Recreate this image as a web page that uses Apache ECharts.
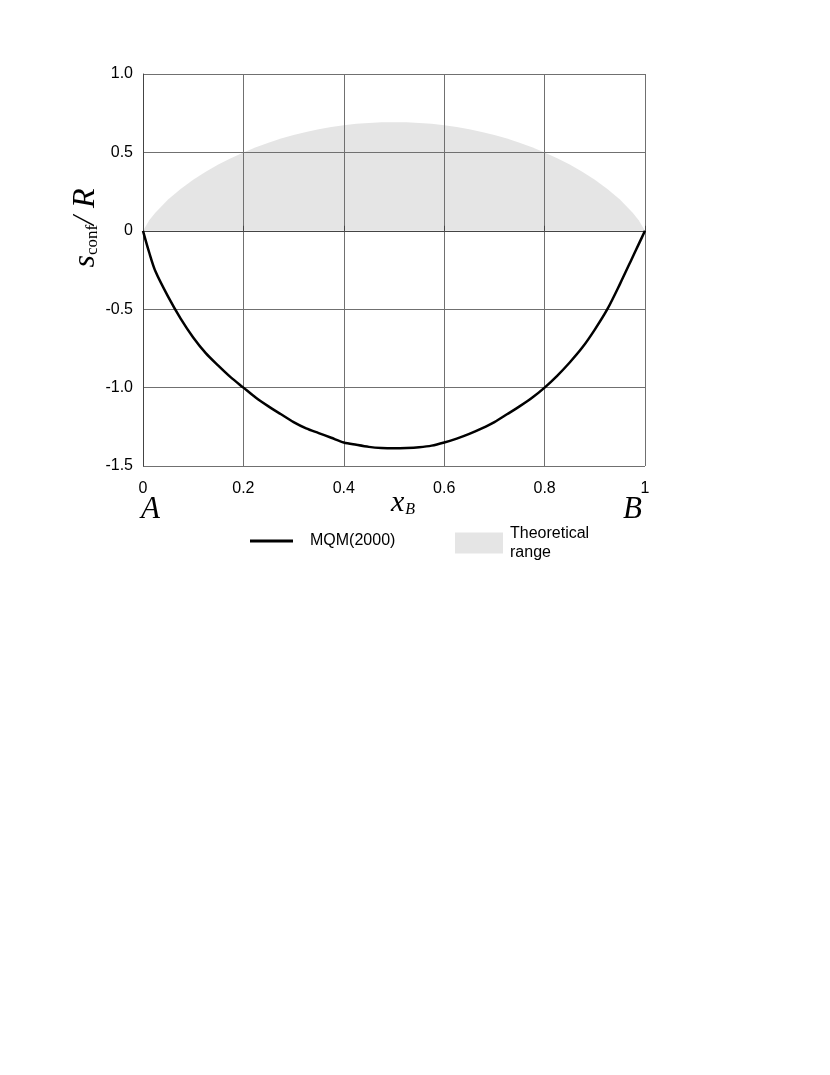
<!DOCTYPE html>
<html>
<head>
<meta charset="utf-8">
<script src="https://cdn.jsdelivr.net/npm/echarts@6/dist/echarts.min.js"></script>
<style>
    html, body { margin: 0; padding: 0; background: #fff; }
    #main { width: 830px; height: 1075px; }
</style>
</head>
<body>
<div id="main"></div>
<script>
    // x_B positions
    var xValues = [0, 0.0125, 0.025, 0.05, 0.075, 0.1, 0.125, 0.15, 0.175, 0.2, 0.225, 0.25, 0.275, 0.3, 0.325, 0.35, 0.375, 0.4, 0.425, 0.45, 0.475, 0.5,
        0.525, 0.55, 0.575, 0.6, 0.625, 0.65, 0.675, 0.7, 0.725, 0.75, 0.775, 0.8, 0.825, 0.85, 0.875, 0.9, 0.925, 0.95, 0.975, 0.9875, 1];
    // MQM(2000) curve
    var mqmValues = [0, -0.14, -0.26, -0.42, -0.56, -0.68, -0.78, -0.86, -0.935, -1.00, -1.065, -1.12, -1.17, -1.22, -1.26, -1.29, -1.32, -1.35, -1.365, -1.378, -1.385, -1.387,
        -1.385, -1.38, -1.37, -1.35, -1.325, -1.295, -1.26, -1.22, -1.17, -1.12, -1.065, -1.00, -0.925, -0.84, -0.745, -0.63, -0.50, -0.34, -0.17, -0.085, 0];
    // upper edge of theoretical range
    var rangeValues = [0, 0.068, 0.117, 0.199, 0.267, 0.325, 0.377, 0.423, 0.463, 0.500, 0.533, 0.562, 0.588, 0.611, 0.630, 0.647, 0.662, 0.673, 0.682, 0.688, 0.692, 0.693,
        0.692, 0.688, 0.682, 0.673, 0.662, 0.647, 0.630, 0.611, 0.588, 0.562, 0.533, 0.500, 0.463, 0.423, 0.377, 0.325, 0.267, 0.199, 0.117, 0.068, 0];

    function pairs(ys) {
        var out = [];
        for (var i = 0; i < xValues.length; i++) {
            out.push([xValues[i], ys[i]]);
        }
        return out;
    }

    var serif = '"Liberation Serif", "Times New Roman", serif';
    var sans = '"Liberation Sans", Arial, sans-serif';

    var myChart = echarts.init(document.getElementById('main'));

    var option = {
        backgroundColor: '#fff',
        animation: false,
        grid: {left: 143, right: 185, top: 74, bottom: 609},
        legend: [
            {
                left: 250, top: 533, padding: 0,
                data: ['MQM(2000)'],
                icon: 'rect', itemWidth: 43, itemHeight: 3, itemGap: 10,
                textStyle: {fontFamily: sans, fontSize: 16, color: '#000', padding: [0, 0, 0, 12]}
            },
            {
                left: 455, top: 524, padding: 0,
                data: ['Theoretical range'],
                icon: 'rect', itemWidth: 48, itemHeight: 21, itemGap: 8,
                formatter: function () { return 'Theoretical\nrange'; },
                textStyle: {fontFamily: sans, fontSize: 16, color: '#000', lineHeight: 19, padding: [0, 0, 0, 2]}
            }
        ],
        xAxis: {
            type: 'value', min: 0, max: 1, interval: 0.2, z: 2,
            axisLine: {lineStyle: {color: '#444', width: 1}},
            axisTick: {show: true, inside: true, length: 5, lineStyle: {color: '#444'}},
            axisLabel: {fontFamily: sans, fontSize: 16, color: '#000', margin: 15},
            splitLine: {show: true, lineStyle: {color: '#707070', width: 1}}
        },
        yAxis: {
            type: 'value', min: -1.5, max: 1.0, interval: 0.5, z: 2,
            axisLine: {show: true, lineStyle: {color: '#444', width: 1}},
            axisTick: {show: false},
            axisLabel: {
                fontFamily: sans, fontSize: 16, color: '#000', margin: 10,
                formatter: function (v) {
                    if (v === 0) return '0';
                    return v.toFixed(1);
                }
            },
            splitLine: {show: true, lineStyle: {color: '#707070', width: 1}}
        },
        graphic: [
            {type: 'text', left: 141, top: 494, style: {text: 'A', font: 'italic 31px ' + serif, fill: '#000'}},
            {type: 'text', left: 623, top: 494, style: {text: 'B', font: 'italic 31px ' + serif, fill: '#000'}},
            {
                type: 'text', x: 403, y: 503,
                style: {
                    text: '{x|x}{b|B}', align: 'center', verticalAlign: 'middle',
                    rich: {
                        x: {fontFamily: serif, fontStyle: 'italic', fontSize: 30, fill: '#000', color: '#000'},
                        b: {fontFamily: serif, fontStyle: 'italic', fontSize: 16, fill: '#000', color: '#000', padding: [14, 0, 0, 1]}
                    }
                }
            },
            {
                type: 'text', x: 86, y: 228, rotation: Math.PI / 2,
                style: {
                    text: '{s|s}{c|conf}{r|/ R}', align: 'center', verticalAlign: 'middle',
                    rich: {
                        s: {fontFamily: serif, fontStyle: 'italic', fontSize: 32, fill: '#000', color: '#000'},
                        c: {fontFamily: serif, fontSize: 17, fill: '#000', color: '#000', padding: [14, 0, 0, 0]},
                        r: {fontFamily: serif, fontStyle: 'italic', fontSize: 32, fill: '#000', color: '#000'}
                    }
                }
            }
        ],
        series: [
            {
                name: 'Theoretical range',
                type: 'line',
                data: pairs(rangeValues),
                symbol: 'none',
                color: '#e5e5e5',
                lineStyle: {width: 0, color: '#e5e5e5'},
                areaStyle: {color: '#e5e5e5', opacity: 1, origin: 0},
                z: 1
            },
            {
                name: 'MQM(2000)',
                type: 'line',
                data: pairs(mqmValues),
                symbol: 'none',
                smooth: 0.3,
                color: '#000',
                lineStyle: {width: 2.5, color: '#000'},
                z: 3
            }
        ]
    };

    myChart.setOption(option);
</script>
</body>
</html>
